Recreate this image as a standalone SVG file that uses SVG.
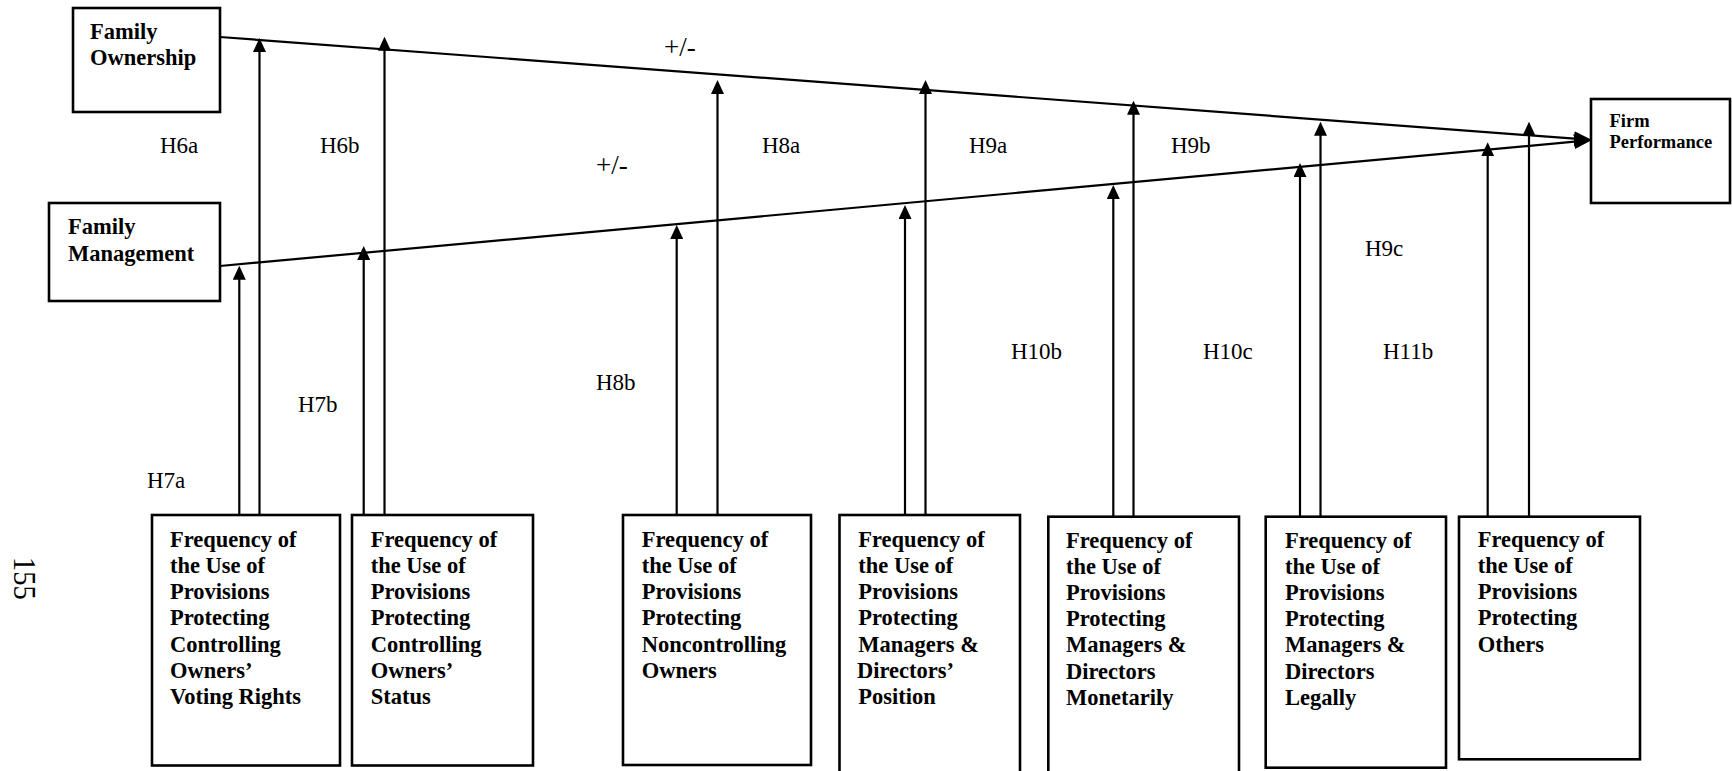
<svg xmlns="http://www.w3.org/2000/svg" width="1732" height="771" viewBox="0 0 1732 771">
<style>
.box{fill:#fff;stroke:#000;stroke-width:2.6}
.nt{font-family:"Liberation Serif","Times New Roman",serif;font-weight:bold;font-size:22.5px;fill:#000}
.ft{font-family:"Liberation Serif","Times New Roman",serif;font-weight:bold;font-size:18.5px;fill:#000}
.lb{font-family:"Liberation Serif","Times New Roman",serif;font-size:23px;fill:#000}
.pm{font-family:"Liberation Serif","Times New Roman",serif;font-size:27px;fill:#000}
.pg{font-family:"Liberation Serif","Times New Roman",serif;font-size:30px;fill:#000}
.cn{stroke:#000;stroke-width:2.2;fill:none}
.ar{marker-end:url(#head)}
</style>
<defs>
<marker id="head" markerUnits="userSpaceOnUse" markerWidth="14" markerHeight="13" refX="10" refY="6.5" orient="auto">
<path d="M0,0 L14,6.5 L0,13 z" fill="#000"/>
</marker>
<marker id="bighead" markerUnits="userSpaceOnUse" markerWidth="18" markerHeight="15" refX="14" refY="7.5" orient="auto">
<path d="M0,0 L18,7.5 L0,15 z" fill="#000"/>
</marker>
</defs>
<rect width="1732" height="771" fill="#fff"/>

<g id="connectors">
<line class="cn" x1="220" y1="37" x2="1588" y2="139.7" marker-end="url(#bighead)"/>
<line class="cn" x1="220" y1="266" x2="1588" y2="140.4" marker-end="url(#bighead)"/>
<line class="cn ar" x1="239.3" y1="515" x2="239.3" y2="269.7"/>
<line class="cn ar" x1="259.5" y1="515" x2="259.5" y2="42"/>
<line class="cn ar" x1="363.7" y1="515" x2="363.7" y2="250"/>
<line class="cn" x1="384.5" y1="515" x2="384.5" y2="163"/>
<line class="cn" x1="384.5" y1="163" x2="384.5" y2="123" stroke-width="1"/>
<line class="cn ar" x1="384.5" y1="123" x2="384.5" y2="40.7"/>
<line class="cn ar" x1="676.7" y1="515" x2="676.7" y2="229"/>
<line class="cn ar" x1="717.5" y1="515" x2="717.5" y2="84"/>
<line class="cn ar" x1="905" y1="515" x2="905" y2="209"/>
<line class="cn ar" x1="925.5" y1="515" x2="925.5" y2="84"/>
<line class="cn ar" x1="1113.3" y1="517" x2="1113.3" y2="189"/>
<line class="cn ar" x1="1133.5" y1="517" x2="1133.5" y2="104.7"/>
<line class="cn ar" x1="1300" y1="517" x2="1300" y2="167"/>
<line class="cn ar" x1="1320.5" y1="517" x2="1320.5" y2="125.7"/>
<line class="cn ar" x1="1487.7" y1="517" x2="1487.7" y2="146.3"/>
<line class="cn ar" x1="1529" y1="517" x2="1529" y2="125.7"/>
</g>

<g id="labels">
<text class="pm" x="664" y="56">+/-</text>
<text class="pm" x="596" y="174">+/-</text>
<text class="lb" x="160" y="153">H6a</text>
<text class="lb" x="320" y="153">H6b</text>
<text class="lb" x="762" y="153">H8a</text>
<text class="lb" x="969" y="153">H9a</text>
<text class="lb" x="1171" y="153">H9b</text>
<text class="lb" x="1365" y="256">H9c</text>
<text class="lb" x="147" y="488">H7a</text>
<text class="lb" x="298" y="412">H7b</text>
<text class="lb" x="596" y="390">H8b</text>
<text class="lb" x="1011" y="359">H10b</text>
<text class="lb" x="1203" y="359">H10c</text>
<text class="lb" x="1383" y="359">H11b</text>
<text class="pg" transform="translate(14,557) rotate(90) scale(0.95,1.05)">155</text>
</g>

<g id="family-ownership">
<rect class="box" x="73" y="8" width="147" height="104"/>
<text class="nt"><tspan x="90" y="39">Family</tspan><tspan x="90" y="65">Ownership</tspan></text>
</g>

<g id="family-management">
<rect class="box" x="49" y="203" width="171" height="98"/>
<text class="nt"><tspan x="68" y="234">Family</tspan><tspan x="68" y="261">Management</tspan></text>
</g>

<g id="firm-performance">
<rect class="box" x="1591" y="99" width="139" height="104"/>
<text class="ft"><tspan x="1609.5" y="126.7">Firm</tspan><tspan x="1609.5" y="147.7">Performance</tspan></text>
</g>

<g id="voting-rights">
<rect class="box" x="152" y="515" width="188" height="250.5"/>
<text class="nt"><tspan x="170" y="546.7">Frequency of</tspan><tspan x="170" dy="26.2">the Use of</tspan><tspan x="170" dy="26.2">Provisions</tspan><tspan x="170" dy="26.2">Protecting</tspan><tspan x="170" dy="26.2">Controlling</tspan><tspan x="170" dy="26.2">Owners’</tspan><tspan x="170" dy="26.2">Voting Rights</tspan></text>
</g>

<g id="owners-status">
<rect class="box" x="352" y="515" width="181" height="250.5"/>
<text class="nt"><tspan x="370.7" y="546.7">Frequency of</tspan><tspan x="370.7" dy="26.2">the Use of</tspan><tspan x="370.7" dy="26.2">Provisions</tspan><tspan x="370.7" dy="26.2">Protecting</tspan><tspan x="370.7" dy="26.2">Controlling</tspan><tspan x="370.7" dy="26.2">Owners’</tspan><tspan x="370.7" dy="26.2">Status</tspan></text>
</g>

<g id="noncontrolling-owners">
<rect class="box" x="623" y="515" width="188" height="250"/>
<text class="nt"><tspan x="641.7" y="546.7">Frequency of</tspan><tspan x="641.7" dy="26.2">the Use of</tspan><tspan x="641.7" dy="26.2">Provisions</tspan><tspan x="641.7" dy="26.2">Protecting</tspan><tspan x="641.7" dy="26.2">Noncontrolling</tspan><tspan x="641.7" dy="26.2">Owners</tspan></text>
</g>

<g id="directors-position">
<rect class="box" x="839.5" y="515" width="180.5" height="270"/>
<text class="nt"><tspan x="858.3" y="546.7">Frequency of</tspan><tspan x="858.3" dy="26.2">the Use of</tspan><tspan x="858.3" dy="26.2">Provisions</tspan><tspan x="858.3" dy="26.2">Protecting</tspan><tspan x="858.3" dy="26.2">Managers &amp;</tspan><tspan x="857" dy="26.2">Directors’</tspan><tspan x="858.3" dy="26.2">Position</tspan></text>
</g>

<g id="directors-monetarily">
<rect class="box" x="1048.3" y="516.7" width="190.7" height="270"/>
<text class="nt"><tspan x="1066" y="547.5">Frequency of</tspan><tspan x="1066" dy="26.2">the Use of</tspan><tspan x="1066" dy="26.2">Provisions</tspan><tspan x="1066" dy="26.2">Protecting</tspan><tspan x="1066" dy="26.2">Managers &amp;</tspan><tspan x="1066" dy="26.2">Directors</tspan><tspan x="1066" dy="26.2">Monetarily</tspan></text>
</g>

<g id="directors-legally">
<rect class="box" x="1265.7" y="516.7" width="180.3" height="251"/>
<text class="nt"><tspan x="1285" y="547.5">Frequency of</tspan><tspan x="1285" dy="26.2">the Use of</tspan><tspan x="1285" dy="26.2">Provisions</tspan><tspan x="1285" dy="26.2">Protecting</tspan><tspan x="1285" dy="26.2">Managers &amp;</tspan><tspan x="1285" dy="26.2">Directors</tspan><tspan x="1285" dy="26.2">Legally</tspan></text>
</g>

<g id="others">
<rect class="box" x="1459" y="516.7" width="181" height="242.6"/>
<text class="nt"><tspan x="1477.7" y="546.7">Frequency of</tspan><tspan x="1477.7" dy="26.2">the Use of</tspan><tspan x="1477.7" dy="26.2">Provisions</tspan><tspan x="1477.7" dy="26.2">Protecting</tspan><tspan x="1477.7" dy="26.2">Others</tspan></text>
</g>
</svg>
